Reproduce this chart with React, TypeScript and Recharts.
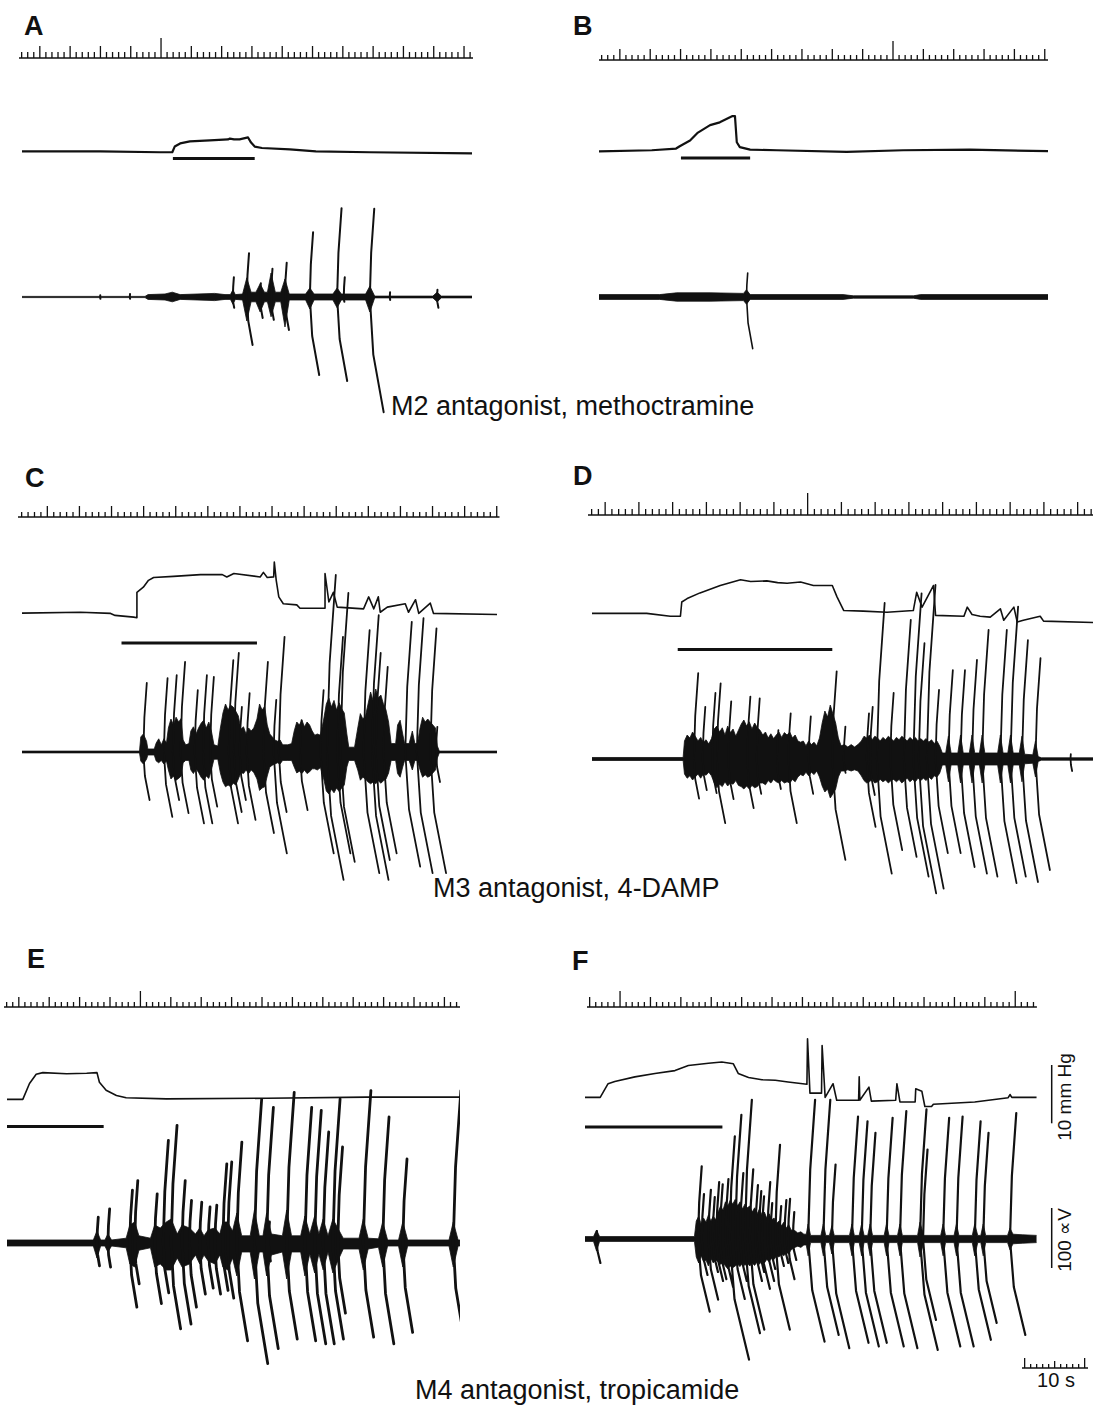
import React from 'react';
import { BarChart, Bar, LineChart, Line, ComposedChart, Area, XAxis, YAxis, ReferenceLine } from 'recharts';

const FONT = '"Liberation Sans", Arial, Helvetica, sans-serif';
const INK = '#111';
const MMHG_PX = 5.7; // px per mmHg
const UV_PX = 0.6; // px per µV
const P_DOMAIN = [-8, 12];
const E_DOMAIN = [-270, 330];

// time marker: one char per 1 s tick (1 small, 2 five-second, 3 long)
const ticksA = '1112' + '11112' + '11112' + '11112' + '11113' + '11112' + '11112' + '11112' + '11112' + '11112' + '11112' + '11112' + '11112' + '11112' + '11112' + '1';
const ticksB = '1112' + '11112' + '11112' + '11112' + '11112' + '11112' + '11112' + '11112' + '11112' + '11113' + '11112' + '11112' + '11112' + '11112' + '11112';
const ticksC = '11112' + '11112' + '11112' + '11112' + '11112' + '11112' + '11112' + '11112' + '11112' + '11112' + '11112' + '11112' + '11112' + '11112' + '11112';
const ticksD = '112' + '11112' + '11112' + '11112' + '11112' + '11112' + '11113' + '11112' + '11112' + '11112' + '11112' + '11112' + '11112' + '11112' + '11112' + '11';
const ticksE = '112' + '11112' + '11112' + '11112' + '11113' + '11112' + '11112' + '11112' + '11112' + '11112' + '11112' + '11112' + '11112' + '11112' + '11112' + '11';
const ticksF = '2' + '11113' + '11112' + '11112' + '11112' + '11112' + '11112' + '11112' + '11112' + '11112' + '11112' + '11112' + '11112' + '11112' + '11113' + '111';
const ticks10s = '31111211113';

// bladder pressure [t (s), mmHg]
const pressureA = [[0, 0.35], [12.9, 0.35], [22.8, 0.2], [24.8, 0.2], [25.2, 1.2], [26.1, 1.75], [27.7, 2.1], [31, 2.3], [34, 2.45], [34.3, 2.6], [35, 2.45], [35.9, 2.45], [37.3, 2.8], [37.8, 1.9], [38.4, 1.2], [39.6, 0.95], [44.2, 0.7], [48.5, 0.35], [57.4, 0.2], [74.3, 0]];
const pressureB = [[0, 0], [8.7, 0.2], [12.7, 0.5], [13.3, 0.9], [15, 1.9], [16.3, 3.3], [18.3, 4.6], [19.9, 5.1], [22, 6.2], [22.4, 6.2], [22.7, 1.6], [23.2, 0.75], [24.9, 0.3], [29.3, 0.2], [40.8, -0.1], [50.1, 0.2], [61.1, 0.3], [74, 0.05]];
const pressureC = [[0, 0.05], [9.1, 0.2], [13.8, 0], [14.5, -0.35], [17.4, -0.65], [17.9, -0.75], [17.9, 3.7], [18.9, 4.6], [19.7, 5.8], [20.5, 6.3], [23.6, 6.5], [27.8, 6.8], [31.2, 6.8], [31.9, 6.4], [33, 7], [37.1, 6.4], [37.6, 7.2], [38.2, 6.3], [39.2, 6.4], [39.3, 9], [39.6, 5.8], [40, 2.9], [40.7, 1.7], [42.8, 1.5], [43.3, 0.9], [47.2, 0.9], [47.2, 7], [47.8, 2], [48.5, 3.7], [49.1, 1.1], [53.2, 0.8], [54, 2.9], [54.8, 0.8], [55.5, 2.9], [55.8, 0.2], [56.9, 1.1], [59.7, 1.7], [60.2, 0.2], [61.3, 2.4], [61.8, 0], [63.6, 1.8], [64.1, 0], [74, -0.2]];
const pressureD = [[0, 0], [8.1, 0], [11.6, -0.5], [13.1, -0.5], [13.3, 2], [14.1, 2.6], [16, 3.6], [19, 4.9], [22, 5.9], [23.5, 5.6], [25.9, 5.7], [27.5, 5.4], [28.9, 5.3], [30.9, 5.5], [32.8, 4.9], [35.6, 4.9], [36.3, 2.9], [37.3, 0.5], [40.2, 0.4], [43.7, 0.2], [47.6, 0.5], [48.1, 3.7], [48.9, 1.1], [50.6, 4.9], [50.9, -0.35], [55.1, -0.5], [55.6, 1.1], [56.3, -0.2], [57.5, -0.5], [59, -0.65], [60.5, 0.8], [61, -1.2], [62.5, 1.1], [63, -1.5], [63.9, -1.2], [66.4, -0.5], [66.9, -1.35], [74.3, -1.6]];
const pressureE = [[0, 0], [2.6, 0], [3.7, 2.8], [4.8, 4.4], [5.9, 4.7], [9.8, 4.5], [13.1, 4.6], [14.8, 4.7], [15.2, 3], [16.3, 1.6], [18, 0.7], [19.6, 0.3], [26.2, 0.1], [42.7, 0.2], [59.1, 0.4], [74.5, 0.4]];
const pressureF = [[0, 0], [2.5, 0], [3.8, 2.4], [4.9, 2.8], [8.2, 3.6], [11.5, 4.2], [14.8, 4.7], [17, 5.6], [20.3, 6], [22.5, 6.2], [24.4, 5.9], [25.2, 4.2], [26.9, 3.5], [29.1, 3.1], [31.3, 3], [33.4, 2.7], [36.5, 2.3], [36.6, 10.3], [37, 0.75], [38.9, 0.75], [39, 9.1], [39.5, 0], [40.8, 2.4], [41.4, -0.5], [45, -0.5], [45.1, 3.6], [45.2, -0.5], [46.7, 1.8], [47.1, -0.65], [51.1, -0.5], [51.3, 2.4], [51.8, -0.8], [54.3, -0.8], [54.4, 1.5], [55.4, 1.1], [55.9, -1.6], [57, -1.6], [57.3, -1.2], [64.1, -0.8], [69.6, -0.05], [69.9, 0.5], [70.2, 0], [74.3, 0]];

// drug application [start, end] (s)
const drugA = [24.9, 38.4];
const drugB = [13.5, 24.9];
const drugC = [15.5, 36.6];
const drugD = [12.7, 35.6];
const drugE = [0, 15.9];
const drugF = [0, 22.6];

// EUS EMG discharges [t (s), up (µV), down (µV)]
const spikesA = [[12.9, 3, 3], [17.8, 5, 3], [34.8, 33, 18], [37.1, 73, 80], [39.3, 23, 35], [41.1, 47, 38], [43.4, 57, 55], [47.5, 108, 130], [52, 148, 140], [53.1, 33, 8], [57.4, 147, 192], [60.7, 8, 5], [68.5, 12, 18]];
const spikesB = [[24.3, 40, 86]];
const spikesC = [[18.9, 115, 80], [22.1, 123, 108], [23.5, 128, 80], [24.7, 150, 102], [26.9, 103, 119], [28.2, 128, 119], [29.3, 125, 91], [32.2, 153, 119], [33, 165, 100], [33.9, 75, 80], [35, 98, 113], [37.6, 150, 135], [39.2, 87, 169], [40, 192, 100], [43.3, 53, 97], [46.5, 103, 169], [47.5, 295, 213], [49.1, 192, 169], [49.6, 265, 183], [53.2, 203, 202], [54.5, 228, 213], [55.1, 165, 180], [56.3, 142, 169], [59.7, 217, 191], [61.5, 223, 202], [63.6, 206, 202], [64.5, 42, 50]];
const spikesD = [[15.1, 143, 66], [16.4, 87, 52], [17.8, 110, 57], [18.5, 126, 107], [20.2, 96, 67], [23, 104, 82], [24.4, 101, 58], [27.4, 48, 50], [29.1, 76, 107], [32.1, 71, 58], [35.6, 146, 168], [37.3, 54, 23], [40.7, 76, 113], [41.2, 87, 60], [42.2, 260, 191], [44.2, 110, 152], [46.2, 232, 163], [47.6, 276, 196], [48.4, 193, 224], [49.6, 290, 216], [50.9, 115, 157], [52.8, 148, 157], [54.6, 148, 180], [56.3, 165, 191], [57.8, 215, 196], [60.5, 215, 207], [62, 254, 196], [63.7, 198, 205], [65.7, 168, 185], [70.9, 8, 20]];
const spikesE = [[14.8, 43, 38], [16.6, 57, 40], [20.2, 88, 107], [21, 104, 68], [24.3, 82, 101], [25.7, 171, 83], [27, 196, 143], [28.8, 104, 135], [30, 71, 107], [31.7, 68, 85], [33.1, 60, 75], [34.2, 63, 85], [35.5, 132, 79], [36.3, 135, 92], [37.8, 168, 163], [40.7, 239, 201], [42.7, 226, 176], [43, 35, 30], [46, 251, 160], [49, 226, 163], [50.6, 221, 168], [52, 185, 168], [53.6, 240, 160], [54.4, 160, 117], [58.6, 254, 157], [61.8, 210, 168], [65.1, 140, 149], [73.4, 254, 151]];
const spikesF = [[1.9, 13, 40], [18.6, 121, 121], [19.2, 75, 60], [20.3, 82, 101], [21, 70, 55], [21.6, 95, 70], [22.2, 91, 67], [23.1, 100, 80], [23.8, 171, 201], [24.7, 207, 100], [25.5, 110, 70], [26.3, 232, 157], [27.1, 116, 151], [28, 90, 70], [28.6, 80, 55], [29.1, 71, 83], [30, 95, 70], [30.5, 60, 50], [31.3, 157, 151], [32, 55, 45], [32.8, 65, 40], [33.4, 67, 67], [34.2, 45, 35], [36.7, 232, 171], [39.2, 232, 160], [40.6, 124, 182], [43.9, 204, 173], [45.5, 196, 179], [46.9, 177, 173], [49.6, 202, 179], [51.8, 213, 182], [55.1, 216, 185], [55.6, 149, 135], [58.9, 202, 179], [61.1, 204, 179], [64.1, 196, 168], [65.5, 177, 140], [69.9, 210, 160]];

// dense EMG activity envelope [t (s), above (µV), below (µV)]
const envA = [[0, 1, 1], [20.3, 1, 1], [20.8, 4, 4], [23.6, 5, 5], [24.8, 8, 8], [26.1, 4, 4], [31.8, 6, 6], [33.5, 4, 4], [34.4, 4, 4], [34.8, 12, 12], [35.2, 4, 4], [36.4, 5, 5], [37.1, 32, 40], [37.8, 8, 8], [38.6, 8, 8], [39.3, 22, 25], [40, 8, 8], [40.5, 8, 8], [41.1, 40, 33], [41.8, 8, 8], [42.7, 8, 8], [43.4, 30, 50], [44.1, 5, 5], [46.8, 5, 5], [47.5, 15, 20], [48.2, 5, 5], [51.3, 5, 5], [52, 15, 18], [52.7, 5, 5], [56.7, 5, 5], [57.4, 18, 25], [58.2, 1.5, 1.5], [67.8, 1.5, 1.5], [68.5, 8, 8], [69.2, 1.5, 1.5], [74.3, 1.5, 1.5]];
const envB = [[0, 4, 4], [10, 4, 4], [12.8, 7, 7], [18.3, 7, 7], [23.8, 6, 6], [24.3, 12, 12], [24.9, 4, 4], [40.2, 4, 4], [41.9, 2, 2], [51.8, 2, 2], [53, 4, 4], [74, 4, 4]];
const envC = [[0, 1.5, 1.5], [18.3, 1.5, 1.5], [18.5, 25, 15], [18.9, 30, 20], [19.4, 18, 12], [19.6, 5, 5], [20.6, 5, 5], [20.9, 15, 15], [21.3, 22, 18], [21.7, 12, 14], [22.1, 22, 20], [22.5, 15, 15], [22.8, 40, 30], [23.2, 55, 45], [23.6, 45, 40], [24, 58, 47], [24.4, 50, 44], [24.8, 56, 40], [25.1, 20, 18], [25.5, 12, 14], [26, 14, 14], [26.3, 35, 30], [26.7, 42, 36], [27.1, 30, 28], [27.5, 40, 34], [27.9, 48, 42], [28.3, 53, 47], [28.7, 40, 40], [29.1, 50, 44], [29.5, 35, 30], [29.9, 12, 12], [30.5, 10, 12], [30.9, 40, 35], [31.3, 65, 50], [31.7, 80, 58], [32.1, 70, 55], [32.5, 78, 58], [32.9, 75, 52], [33.3, 68, 55], [33.7, 60, 45], [34.1, 38, 34], [34.5, 42, 36], [34.9, 30, 30], [35.3, 40, 36], [35.7, 35, 30], [36.1, 40, 34], [36.6, 55, 45], [37, 80, 64], [37.4, 70, 60], [37.8, 76, 58], [38.2, 45, 40], [38.6, 30, 25], [39, 25, 22], [39.4, 20, 20], [39.8, 18, 18], [40.2, 20, 20], [40.6, 12, 14], [41.4, 12, 14], [42, 14, 14], [42.4, 35, 25], [42.8, 50, 35], [43.2, 45, 32], [43.6, 53, 36], [44, 42, 30], [44.4, 50, 36], [44.8, 45, 33], [45.2, 35, 28], [45.6, 28, 28], [46, 30, 30], [46.5, 28, 26], [47, 55, 45], [47.4, 80, 65], [47.8, 90, 70], [48.2, 75, 62], [48.6, 86, 68], [49, 70, 60], [49.4, 82, 66], [49.8, 72, 60], [50.2, 65, 55], [50.6, 30, 25], [50.9, 8, 14], [51.8, 8, 14], [52.3, 40, 30], [52.7, 64, 47], [53.1, 55, 42], [53.5, 60, 45], [53.9, 80, 50], [54.3, 100, 53], [54.7, 85, 50], [55.1, 105, 53], [55.5, 90, 48], [55.9, 95, 52], [56.3, 80, 48], [56.7, 70, 45], [57.1, 50, 35], [57.5, 14, 14], [58.2, 14, 14], [58.5, 45, 36], [58.9, 53, 42], [59.3, 30, 25], [59.6, 14, 14], [60.3, 14, 14], [60.8, 35, 30], [61.2, 14, 14], [61.6, 14, 14], [62, 40, 30], [62.4, 58, 42], [62.8, 50, 38], [63.2, 55, 42], [63.6, 50, 40], [64, 45, 35], [64.4, 40, 30], [64.7, 10, 10], [65, 1.5, 1.5], [74, 1.5, 1.5]];
const envD = [[0, 2.5, 2.5], [13.5, 2.5, 2.5], [13.7, 30, 25], [14.1, 40, 32], [14.5, 35, 28], [14.9, 45, 35], [15.3, 38, 30], [15.7, 30, 25], [16.1, 36, 32], [16.5, 28, 25], [16.9, 32, 27], [17.3, 25, 22], [17.7, 34, 28], [18.1, 50, 40], [18.5, 55, 48], [18.9, 45, 42], [19.3, 52, 46], [19.7, 40, 38], [20.1, 55, 45], [20.5, 44, 40], [20.9, 50, 42], [21.3, 38, 36], [21.7, 48, 44], [22.1, 58, 46], [22.5, 65, 50], [22.9, 55, 45], [23.3, 62, 50], [23.7, 50, 44], [24.1, 60, 48], [24.5, 52, 46], [24.9, 48, 40], [25.3, 40, 40], [25.7, 45, 43], [26.1, 35, 36], [26.5, 42, 40], [26.9, 34, 34], [27.3, 40, 38], [27.7, 45, 40], [28.1, 36, 36], [28.5, 44, 40], [28.9, 40, 38], [29.3, 45, 40], [29.7, 35, 34], [30.1, 40, 38], [30.5, 30, 30], [30.9, 28, 26], [31.3, 30, 28], [31.7, 22, 22], [32.1, 30, 28], [32.5, 24, 22], [32.9, 28, 26], [33.3, 22, 20], [33.7, 35, 30], [34.1, 60, 45], [34.5, 80, 55], [34.9, 70, 50], [35.3, 90, 65], [35.7, 75, 58], [36.1, 60, 50], [36.5, 35, 30], [36.9, 22, 20], [37.4, 24, 20], [37.9, 20, 18], [38.4, 24, 20], [38.9, 20, 18], [39.4, 24, 20], [39.9, 30, 28], [40.3, 38, 36], [40.7, 35, 40], [41.1, 40, 38], [41.5, 32, 34], [41.9, 38, 40], [42.3, 35, 38], [42.7, 30, 34], [43.1, 36, 38], [43.5, 32, 35], [43.9, 38, 40], [44.3, 34, 36], [44.7, 30, 34], [45.1, 36, 38], [45.5, 32, 34], [45.9, 38, 40], [46.3, 34, 36], [46.7, 30, 32], [47.1, 36, 38], [47.5, 32, 34], [47.9, 36, 38], [48.3, 30, 32], [48.7, 34, 36], [49.1, 30, 32], [49.5, 34, 36], [49.9, 28, 30], [50.3, 32, 34], [50.7, 26, 28], [51.1, 30, 30], [51.5, 22, 24], [51.9, 10, 10], [52.4, 10, 10], [52.8, 38, 38], [53.2, 10, 10], [54.2, 10, 10], [54.6, 40, 40], [55, 10, 10], [55.9, 10, 10], [56.3, 40, 40], [56.7, 10, 10], [57.4, 10, 10], [57.8, 40, 40], [58.2, 10, 10], [60.1, 10, 10], [60.5, 40, 40], [60.9, 10, 10], [61.6, 10, 10], [62, 40, 40], [62.4, 10, 10], [63.3, 10, 10], [63.7, 38, 38], [64.1, 8, 8], [65.3, 7, 7], [65.7, 30, 30], [66.1, 4, 4], [66.6, 2, 2], [74.3, 2, 2]];
const envE = [[0, 5, 5], [14.2, 5, 5], [14.8, 20, 25], [15.4, 5, 5], [16.1, 5, 5], [16.6, 15, 15], [17.2, 5, 5], [19.6, 8, 8], [20.2, 30, 35], [21, 35, 40], [21.7, 12, 12], [23.6, 8, 8], [24.3, 30, 40], [25.2, 25, 35], [26.2, 35, 45], [27, 40, 45], [28, 15, 25], [28.8, 30, 40], [30, 25, 35], [31, 15, 20], [31.7, 25, 35], [32.4, 12, 20], [33.1, 22, 30], [34.2, 25, 35], [35, 15, 20], [35.5, 35, 40], [36.3, 35, 45], [37.1, 20, 25], [37.8, 50, 55], [38.6, 12, 15], [40, 12, 15], [40.7, 55, 60], [41.5, 12, 15], [42.1, 12, 15], [42.7, 50, 55], [43.5, 15, 20], [45.3, 12, 15], [46, 55, 60], [46.8, 12, 15], [48.3, 12, 15], [49, 45, 55], [49.8, 15, 18], [50.6, 45, 50], [51.3, 15, 18], [52, 40, 45], [52.8, 12, 15], [53.6, 40, 50], [54.4, 25, 30], [55.3, 8, 10], [57.9, 8, 10], [58.6, 40, 45], [59.4, 8, 10], [61.1, 7, 7], [61.8, 35, 40], [62.6, 5, 5], [64.4, 5, 5], [65.1, 35, 40], [65.9, 5, 5], [72.7, 5, 5], [73.4, 35, 40], [74.2, 5, 5], [74.5, 5, 5]];
const envF = [[0, 4, 4], [1.4, 4, 4], [1.9, 15, 20], [2.4, 4, 4], [18, 4, 4], [18.3, 30, 30], [18.7, 38, 40], [19.1, 25, 28], [19.5, 35, 38], [19.9, 28, 35], [20.3, 40, 45], [20.7, 30, 32], [21.1, 38, 40], [21.5, 32, 35], [21.9, 45, 38], [22.3, 55, 42], [22.7, 48, 40], [23.1, 62, 45], [23.5, 55, 50], [23.9, 65, 45], [24.3, 58, 48], [24.7, 66, 45], [25.1, 55, 42], [25.5, 62, 46], [25.9, 50, 40], [26.3, 58, 44], [26.7, 52, 40], [27.1, 55, 45], [27.5, 45, 40], [27.9, 52, 44], [28.3, 42, 38], [28.7, 50, 42], [29.1, 40, 36], [29.5, 45, 40], [29.9, 35, 34], [30.3, 42, 38], [30.7, 32, 32], [31.1, 35, 34], [31.5, 26, 28], [31.9, 30, 30], [32.3, 22, 25], [32.7, 28, 28], [33.1, 18, 22], [33.5, 24, 25], [33.9, 15, 18], [34.5, 14, 14], [35, 10, 12], [35.5, 12, 14], [36, 8, 10], [36.4, 8, 10], [36.7, 25, 28], [37.1, 6, 6], [38.8, 6, 6], [39.2, 25, 28], [39.6, 6, 6], [40.2, 6, 6], [40.6, 22, 25], [41, 6, 6], [43.5, 6, 6], [43.9, 25, 28], [44.3, 6, 6], [45.1, 6, 6], [45.5, 25, 28], [45.9, 6, 6], [46.5, 6, 6], [46.9, 25, 28], [47.3, 6, 6], [49.2, 6, 6], [49.6, 25, 28], [50, 6, 6], [51.4, 6, 6], [51.8, 25, 28], [52.2, 6, 6], [54.7, 6, 6], [55.1, 28, 30], [55.7, 6, 6], [58.5, 6, 6], [58.9, 25, 28], [59.3, 6, 6], [60.7, 6, 6], [61.1, 25, 28], [61.5, 6, 6], [63.7, 6, 6], [64.1, 25, 28], [64.6, 6, 6], [65.1, 6, 6], [65.5, 25, 28], [65.9, 6, 6], [69.5, 6, 6], [69.9, 18, 18], [70.4, 8, 8], [72, 7, 7], [74.3, 6, 6]];

const panels = [
  { label: 'A', lx: 24, ly: 35, x0: 22, pps: 6.06, dur: 74.3, ticks: ticksA, tickLen: [0, 6, 12, 20], tickFirst: 22, tickY: 58, pBase: 153, pressure: pressureA, drug: drugA, drop: 5, pW: 2.2, eBase: 297, spikes: spikesA, env: envA, sW: 2, lean: 0.12 },
  { label: 'B', lx: 573, ly: 35, x0: 599, pps: 6.07, dur: 74, ticks: ticksB, tickLen: [0, 5, 11, 19], tickFirst: 602, tickY: 60, pBase: 151, pressure: pressureB, drug: drugB, drop: 6.7, pW: 2.2, eBase: 296.7, spikes: spikesB, env: envB, sW: 1.6, lean: 0.12 },
  { label: 'C', lx: 25, ly: 487, x0: 21.7, pps: 6.42, dur: 74, ticks: ticksC, tickLen: [0, 5, 11, 18], tickFirst: 21.7, tickY: 517, pBase: 613, pressure: pressureC, drug: drugC, drop: 29.7, pW: 1.6, eBase: 751.7, spikes: spikesC, env: envC, sW: 1.8, lean: 0.13 },
  { label: 'D', lx: 573, ly: 485, x0: 591.7, pps: 6.75, dur: 74.3, ticks: ticksD, tickLen: [0, 6, 13, 22], tickFirst: 591.7, tickY: 515, pBase: 613, pressure: pressureD, drug: drugD, drop: 36, pW: 1.6, eBase: 759, spikes: spikesD, env: envD, sW: 1.8, lean: 0.13 },
  { label: 'E', lx: 27, ly: 968, x0: 7.3, pps: 6.08, dur: 74.5, ticks: ticksE, tickLen: [0, 5, 10, 16], tickFirst: 7.3, tickY: 1007, pBase: 1099, pressure: pressureE, drug: drugE, drop: 27, pW: 1.6, eBase: 1242.5, spikes: spikesE, env: envE, sW: 2.8, lean: 0.11 },
  { label: 'F', lx: 572, ly: 970, x0: 585, pps: 6.08, dur: 74.3, ticks: ticksF, tickLen: [0, 5, 10, 16], tickFirst: 590, tickY: 1007, pBase: 1097, pressure: pressureF, drug: drugF, drop: 29.7, pW: 1.6, eBase: 1239.3, spikes: spikesF, env: envF, sW: 2.2, lean: 0.16 },
];

const ZERO = { top: 0, right: 0, bottom: 0, left: 0 };

function TickTrace({ pattern, lens, first, step, baseY }) {
  const data = pattern.split('').map((c, i) => ({ i, h: lens[Number(c)] }));
  const maxH = Math.max(...lens);
  const w = data.length * step;
  return (
    <div style={{ position: 'absolute', left: first - step / 2, top: baseY - maxH }}>
      <BarChart width={w} height={maxH + 2} data={data} margin={{ top: 0, right: 0, bottom: 2, left: 0 }}>
        <XAxis dataKey="i" hide />
        <YAxis hide domain={[0, maxH]} allowDataOverflow />
        <ReferenceLine y={0} stroke={INK} strokeWidth={1.4} />
        <Bar dataKey="h" fill={INK} barSize={1.3} isAnimationActive={false} />
      </BarChart>
    </div>
  );
}

function PressureTrace({ p }) {
  const rows = p.pressure.map(([t, v]) => ({ t, v }));
  const w = p.dur * p.pps;
  const h = (P_DOMAIN[1] - P_DOMAIN[0]) * MMHG_PX;
  const barY = -p.drop / MMHG_PX;
  return (
    <div style={{ position: 'absolute', left: p.x0, top: p.pBase - P_DOMAIN[1] * MMHG_PX }}>
      <LineChart width={w} height={h} data={rows} margin={ZERO}>
        <XAxis type="number" dataKey="t" domain={[0, p.dur]} hide allowDataOverflow />
        <YAxis type="number" domain={P_DOMAIN} hide allowDataOverflow />
        <ReferenceLine segment={[{ x: p.drug[0], y: barY }, { x: p.drug[1], y: barY }]} stroke={INK} strokeWidth={3} />
        <Line type="linear" dataKey="v" stroke={INK} strokeWidth={p.pW} dot={false} isAnimationActive={false} strokeLinejoin="round" />
      </LineChart>
    </div>
  );
}

function EmgTrace({ p }) {
  const band = p.env.map(([t, hi, lo]) => ({ t, band: [-lo, hi] }));
  // each discharge is drawn as a pen arc: base -> tip above, base -> tip below, then a break
  const trace = [];
  [...p.spikes].sort((a, b) => a[0] - b[0]).forEach(([t, up, down]) => {
    const u = (0.05 * up * UV_PX) / p.pps;
    const d = (p.lean * down * UV_PX) / p.pps;
    trace.push(
      { t: t + u, v: up },
      { t: t + u * 0.3, v: up * 0.5 },
      { t, v: 0 },
      { t: t + d * 0.25, v: -down * 0.5 },
      { t: t + d, v: -down },
      { t, v: null },
    );
  });
  const w = p.dur * p.pps;
  const h = (E_DOMAIN[1] - E_DOMAIN[0]) * UV_PX;
  return (
    <div style={{ position: 'absolute', left: p.x0, top: p.eBase - E_DOMAIN[1] * UV_PX }}>
      <ComposedChart width={w} height={h} margin={ZERO}>
        <XAxis type="number" dataKey="t" domain={[0, p.dur]} hide allowDataOverflow />
        <YAxis type="number" domain={E_DOMAIN} hide allowDataOverflow />
        <Area data={band} type="linear" dataKey="band" fill={INK} fillOpacity={1} stroke={INK} strokeWidth={0.8} isAnimationActive={false} />
        <Line data={trace} type="linear" dataKey="v" stroke={INK} strokeWidth={p.sW} dot={false} connectNulls={false} isAnimationActive={false} strokeLinejoin="round" strokeLinecap="round" />
      </ComposedChart>
    </div>
  );
}

export default function App() {
  return (
    <div style={{ position: 'absolute', left: 0, top: 0, width: 1093, height: 1405, background: '#fff', overflow: 'hidden' }}>
      {panels.map((p) => (
        <React.Fragment key={p.label}>
          <TickTrace pattern={p.ticks} lens={p.tickLen} first={p.tickFirst} step={p.pps} baseY={p.tickY} />
          <PressureTrace p={p} />
          <EmgTrace p={p} />
        </React.Fragment>
      ))}
      <TickTrace pattern={ticks10s} lens={[0, 4, 7, 10]} first={1025} step={6} baseY={1368} />
      <svg width={1093} height={1405} style={{ position: 'absolute', left: 0, top: 0, pointerEvents: 'none' }}>
        {panels.map((p) => (
          <text key={p.label} x={p.lx} y={p.ly} fontFamily={FONT} fontWeight="bold" fontSize={27} fill={INK}>{p.label}</text>
        ))}
        <text x={391} y={415} fontFamily={FONT} fontSize={27} fill={INK}>M2 antagonist, methoctramine</text>
        <text x={433} y={897} fontFamily={FONT} fontSize={27} fill={INK}>M3 antagonist, 4-DAMP</text>
        <text x={415} y={1399} fontFamily={FONT} fontSize={27} fill={INK}>M4 antagonist, tropicamide</text>
        <line x1={1051.7} y1={1065} x2={1051.7} y2={1123.3} stroke={INK} strokeWidth={1.5} />
        <line x1={1051.7} y1={1208} x2={1051.7} y2={1268} stroke={INK} strokeWidth={1.5} />
        <text x={1071} y={1097} transform="rotate(-90 1071 1097)" textAnchor="middle" fontFamily={FONT} fontSize={19} fill={INK}>10 mm Hg</text>
        <text x={1071} y={1240} transform="rotate(-90 1071 1240)" textAnchor="middle" fontFamily={FONT} fontSize={19} fill={INK}>100 ∝V</text>
        <text x={1056} y={1387} textAnchor="middle" fontFamily={FONT} fontSize={20} fill={INK}>10 s</text>
      </svg>
    </div>
  );
}
